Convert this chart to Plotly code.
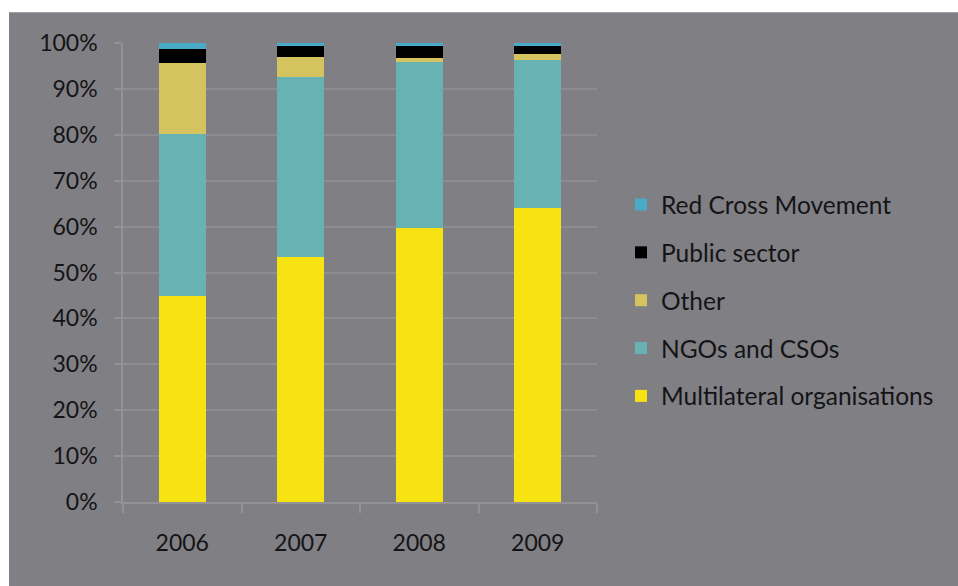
import plotly.graph_objects as go

# Share of funding by channel, per year (percent of total)
years = ["2006", "2007", "2008", "2009"]
multilateral = [44.9, 53.4, 59.6, 64.0]
ngos_csos = [35.2, 39.1, 36.3, 32.4]
other = [15.5, 4.5, 0.8, 1.1]
public_sector = [3.0, 2.3, 2.6, 1.8]
red_cross = [1.4, 0.7, 0.7, 0.7]
pct_ticks = [0, 10, 20, 30, 40, 50, 60, 70, 80, 90, 100]

series = [
    ("Multilateral organisations", multilateral, "#f8e312"),
    ("NGOs and CSOs", ngos_csos, "#67b3b4"),
    ("Other", other, "#d4c35e"),
    ("Public sector", public_sector, "#000000"),
    ("Red Cross Movement", red_cross, "#49abc7"),
]

BG = "rgb(128,127,132)"
TEXT = "#141416"
FONT = "Lato"

fig = go.Figure()
n = len(series)
for i, (name, vals, col) in enumerate(series):
    fig.add_trace(go.Bar(
        x=years, y=vals, name=name,
        marker=dict(color=col, line=dict(width=0)),
        legendgroup=f"g{i}",
        legendrank=n - i,  # top series listed first
        width=0.4,
    ))

# plot area in pixels: x 123..597, y 42.7..502.5
L, R, T, B = 123, 958 - 597, 42.7, 586 - 502.5
pw, ph = 958 - L - R, 586 - T - B

def px_x(p):
    return (p - L) / pw

def px_y(p):
    return (586 - B - p) / ph

fig.add_shape(
    type="rect", xref="paper", yref="paper",
    x0=px_x(9), x1=px_x(960), y0=px_y(12), y1=px_y(590),
    fillcolor=BG, line=dict(width=0), layer="below",
)

fig.update_layout(
    width=958, height=586,
    margin=dict(l=L, r=R, t=T, b=B),
    paper_bgcolor="white",
    plot_bgcolor="rgba(0,0,0,0)",
    barmode="stack",
    font=dict(family=FONT, size=23, color=TEXT),
    legend=dict(
        traceorder="grouped",
        x=px_x(621), y=px_y(182), xanchor="left", yanchor="top",
        bgcolor="rgba(0,0,0,0)",
        tracegroupgap=13,
        font=dict(family=FONT, size=24.5, color=TEXT),
    ),
    xaxis=dict(
        type="category",
        tickson="boundaries",
        ticks="outside", ticklen=9, tickwidth=1.5, tickcolor="#939297",
        showline=True, linecolor="#939297", linewidth=1.5,
        showgrid=False,
        ticklabelstandoff=20,
    ),
    yaxis=dict(
        range=[0, 100],
        tickmode="array",
        tickvals=pct_ticks,
        ticktext=[f"{v}%" for v in pct_ticks],
        ticks="outside", ticklen=7, tickwidth=1.5, tickcolor="#939297",
        showline=True, linecolor="#939297", linewidth=1.5,
        showgrid=True, gridcolor="#8e8d92", gridwidth=1.5,
        zeroline=False,
        ticklabelstandoff=12,
    ),
)

fig.write_html("out.html")
